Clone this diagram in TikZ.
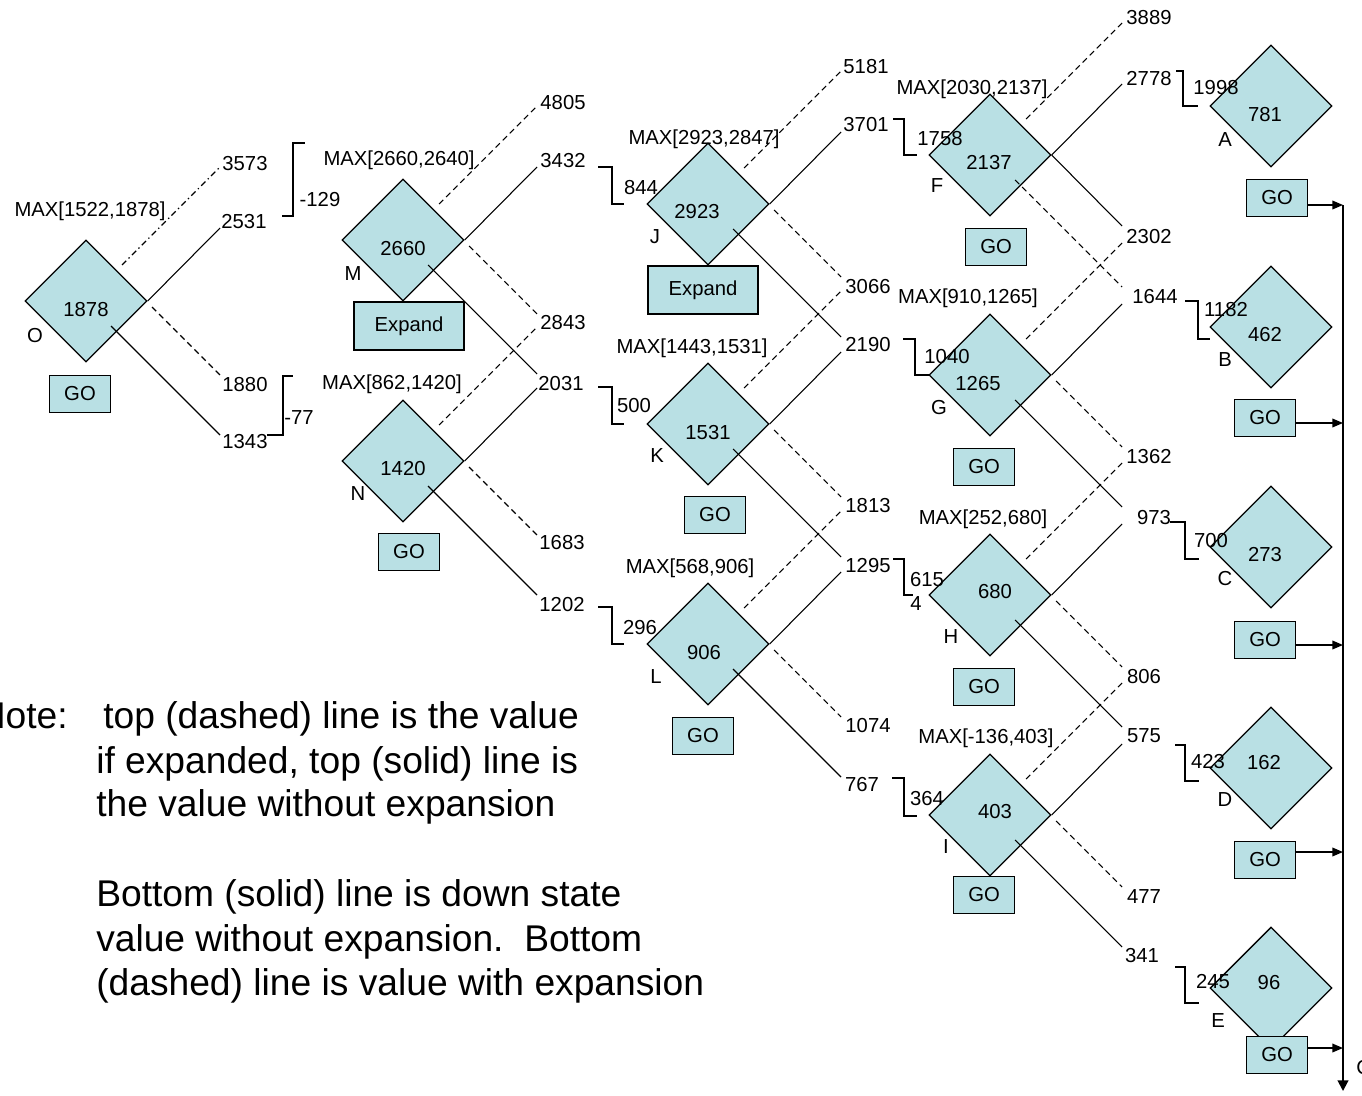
\documentclass[tikz,border=0pt]{standalone}
\usepackage{fontspec}
\setmainfont{Liberation Sans}
\usetikzlibrary{shapes.geometric,arrows.meta,calc}
\definecolor{boxfill}{RGB}{185,224,228}
\newcommand\fourlines[5]{%
  \draw[dashl] ($(#1)+(36,-36)$) -- (#2);
  \draw[solidl] (#1.east) -- (#3);
  \draw[dashl] ($(#1)+(66,6)$) -- (#4);
  \draw[solidl] ($(#1)+(25,25)$) -- (#5);}
\begin{document}
\begin{tikzpicture}[x=0.75pt,y=-0.75pt,
  dnode/.style={diamond,draw=black,fill=boxfill,line width=1pt,minimum width=91.5pt,minimum height=91.5pt,inner sep=0pt,aspect=1},
  gobox/.style={rectangle,draw=black,fill=boxfill,line width=1pt,minimum width=45.75pt,minimum height=27.75pt,inner sep=0pt,font=\fontsize{15.2}{18}\selectfont},
  expbox/.style={gobox,minimum width=82.5pt,minimum height=36pt},
  txt/.style={inner sep=0pt,font=\fontsize{15.2}{18}\selectfont},
  notetxt/.style={inner sep=0pt,font=\fontsize{27.9}{33}\selectfont,anchor=base west},
  solidl/.style={line width=0.8pt},
  dashl/.style={line width=0.8pt,dash pattern=on 4.5pt off 3pt},
  dashdotl/.style={line width=0.8pt,dash pattern=on 4.5pt off 2.5pt on 1pt off 2.5pt},
  brk/.style={line width=1pt},
  garrow/.style={line width=1.1pt,-{Triangle[length=8pt,width=6.5pt]}}
]
\useasboundingbox (0,0) rectangle (1362,1095);

% ---------- diamonds ----------
\node[dnode] (dO) at (86,301) {};
\node[dnode] (dM) at (403,240) {};
\node[dnode] (dN) at (403,461) {};
\node[dnode] (dJ) at (708,204) {};
\node[dnode] (dK) at (708,424) {};
\node[dnode] (dL) at (708,644) {};
\node[dnode] (dF) at (990,155) {};
\node[dnode] (dG) at (990,375) {};
\node[dnode] (dH) at (990,595) {};
\node[dnode] (dI) at (990,815) {};
\node[dnode] (dA) at (1271,106) {};
\node[dnode] (dB) at (1271,327) {};
\node[dnode] (dC) at (1271,547) {};
\node[dnode] (dD) at (1271,768) {};
\node[dnode] (dE) at (1271,988) {};

% ---------- values inside diamonds ----------
\node[txt] (vO) at (86,310) {1878};
\node[txt] (vM) at (403,249) {2660};
\node[txt] (vN) at (403,469) {1420};
\node[txt] (vJ) at (697,212) {2923};
\node[txt] (vK) at (708,433) {1531};
\node[txt] (vL) at (704,653) {906};
\node[txt] (vF) at (989,163) {2137};
\node[txt] (vG) at (978,384) {1265};
\node[txt] (vH) at (995,592) {680};
\node[txt] (vI) at (995,812) {403};
\node[txt] (vA) at (1265,115) {781};
\node[txt] (vB) at (1265,335) {462};
\node[txt] (vC) at (1265,555) {273};
\node[txt] (vD) at (1264,763) {162};
\node[txt] (vE) at (1269,983) {96};

% ---------- letters ----------
\node[txt] (lO) at (35,336) {O};
\node[txt] (lM) at (353,274) {M};
\node[txt] (lN) at (358,494) {N};
\node[txt] (lJ) at (655,237) {J};
\node[txt] (lK) at (657,456) {K};
\node[txt] (lL) at (656,677) {L};
\node[txt] (lF) at (937,186) {F};
\node[txt] (lG) at (939,408) {G};
\node[txt] (lH) at (951,637) {H};
\node[txt] (lI) at (946,847) {I};
\node[txt] (lA) at (1225,140) {A};
\node[txt] (lB) at (1225,360) {B};
\node[txt] (lC) at (1225,579) {C};
\node[txt] (lD) at (1225,800) {D};
\node[txt] (lE) at (1218,1021) {E};

% ---------- MAX labels ----------
\node[txt] (mO) at (90,211) {MAX[1522,1878]};
\node[txt] (mM) at (399,160) {MAX[2660,2640]};
\node[txt] (mN) at (392,384) {MAX[862,1420]};
\node[txt] (mJ) at (704,139) {MAX[2923,2847]};
\node[txt] (mK) at (692,348) {MAX[1443,1531]};
\node[txt] (mL) at (690,568) {MAX[568,906]};
\node[txt] (mF) at (972,89) {MAX[2030,2137]};
\node[txt] (mG) at (968,298) {MAX[910,1265]};
\node[txt] (mH) at (983,519) {MAX[252,680]};
\node[txt] (mI) at (986,738) {MAX[-136,403]};

% ---------- line end points ----------
\coordinate (eO1) at (220,167); \coordinate (eO2) at (220,228);
\coordinate (eO3) at (220,375); \coordinate (eO4) at (220,435);
\coordinate (eM1) at (537,106); \coordinate (eM2) at (537,167);
\coordinate (eM3) at (537,314); \coordinate (eM4) at (537,374);
\coordinate (eN1) at (537,327); \coordinate (eN2) at (537,388);
\coordinate (eN3) at (537,535); \coordinate (eN4) at (537,595);
\coordinate (eJ1) at (841,71);  \coordinate (eJ2) at (841,132);
\coordinate (eJ3) at (841,277); \coordinate (eJ4) at (841,337);
\coordinate (eK1) at (841,291); \coordinate (eK2) at (841,352);
\coordinate (eK3) at (841,497); \coordinate (eK4) at (841,557);
\coordinate (eL1) at (841,511); \coordinate (eL2) at (841,572);
\coordinate (eL3) at (841,717); \coordinate (eL4) at (841,777);
\coordinate (eF1) at (1122,23);  \coordinate (eF2) at (1122,84);
\coordinate (eF3) at (1122,226); \coordinate (eF4) at (1122,287);
\coordinate (eG1) at (1122,243); \coordinate (eG2) at (1122,304);
\coordinate (eG3) at (1122,447); \coordinate (eG4) at (1122,507);
\coordinate (eH1) at (1122,463); \coordinate (eH2) at (1122,524);
\coordinate (eH3) at (1122,667); \coordinate (eH4) at (1122,727);
\coordinate (eI1) at (1122,683); \coordinate (eI2) at (1122,744);
\coordinate (eI3) at (1122,887); \coordinate (eI4) at (1122,947);

% ---------- branch lines ----------
\draw[dashdotl] ($(dO)+(36,-36)$) -- (eO1);
\draw[solidl] (dO.east) -- (eO2);
\draw[dashl] ($(dO)+(66,6)$) -- (eO3);
\draw[solidl] ($(dO)+(25,25)$) -- (eO4);
\fourlines{dM}{eM1}{eM2}{eM3}{eM4}
\fourlines{dN}{eN1}{eN2}{eN3}{eN4}
\fourlines{dJ}{eJ1}{eJ2}{eJ3}{eJ4}
\fourlines{dK}{eK1}{eK2}{eK3}{eK4}
\fourlines{dL}{eL1}{eL2}{eL3}{eL4}
\draw[dashl] ($(dF)+(36,-36)$) -- (eF1);
\draw[solidl] (dF.east) -- (eF2);
\draw[solidl] (dF.east) -- (eF3);
\draw[dashl] ($(dF)+(25,25)$) -- (eF4);
\fourlines{dG}{eG1}{eG2}{eG3}{eG4}
\fourlines{dH}{eH1}{eH2}{eH3}{eH4}
\fourlines{dI}{eI1}{eI2}{eI3}{eI4}

% ---------- value labels ----------
\node[txt] (v3573) at (245,164) {3573};
\node[txt] (v2531) at (244,222) {2531};
\node[txt] (v1880) at (245,385) {1880};
\node[txt] (v1343) at (245,442) {1343};
\node[txt] (v4805) at (563,103) {4805};
\node[txt] (v3432) at (563,161) {3432};
\node[txt] (v2843) at (563,323) {2843};
\node[txt] (v2031) at (561,384) {2031};
\node[txt] (v1683) at (562,543) {1683};
\node[txt] (v1202) at (562,605) {1202};
\node[txt] (v5181) at (866,67) {5181};
\node[txt] (v3701) at (866,125) {3701};
\node[txt] (v3066) at (868,287) {3066};
\node[txt] (v2190) at (868,345) {2190};
\node[txt] (v1813) at (868,506) {1813};
\node[txt] (v1295) at (868,566) {1295};
\node[txt] (v1074) at (868,726) {1074};
\node[txt] (v767)  at (862,785) {767};
\node[txt] (v3889) at (1149,18) {3889};
\node[txt] (v2778) at (1149,79) {2778};
\node[txt] (v2302) at (1149,237) {2302};
\node[txt] (v1644) at (1155,297) {1644};
\node[txt] (v1362) at (1149,457) {1362};
\node[txt] (v973)  at (1154,518) {973};
\node[txt] (v806)  at (1144,677) {806};
\node[txt] (v575)  at (1144,736) {575};
\node[txt] (v477)  at (1144,897) {477};
\node[txt] (v341)  at (1142,956) {341};

% ---------- brackets ----------
\draw[brk] (282,216) -- (293,216) -- (293,143) -- (305,143);
\node[txt] (b129) at (320,200) {-129};
\draw[brk] (267,435) -- (283,435) -- (283,376) -- (293,376);
\node[txt] (b77) at (299,418) {-77};
\draw[brk] (598,167) -- (612,167) -- (612,204) -- (624,204);
\node[txt] (b844) at (641,188) {844};
\draw[brk] (598,387) -- (612,387) -- (612,424) -- (624,424);
\node[txt] (b500) at (634,406) {500};
\draw[brk] (598,607) -- (612,607) -- (612,644) -- (624,644);
\node[txt] (b296) at (640,628) {296};
\draw[brk] (893,119) -- (904,119) -- (904,155) -- (917,155);
\node[txt] (b1758) at (940,139) {1758};
\draw[brk] (903,339) -- (915,339) -- (915,375) -- (929,375);
\node[txt] (b1040) at (947,357) {1040};
\draw[brk] (893,559) -- (904,559) -- (904,595) -- (913,595);
\node[txt] (b615) at (927,580) {615};
\node[txt] (b4) at (916,604) {4};
\draw[brk] (892,778) -- (904,778) -- (904,816) -- (917,816);
\node[txt] (b364) at (927,799) {364};
\draw[brk] (1176,71) -- (1183,71) -- (1183,106) -- (1198,106);
\node[txt] (b1998) at (1216,88) {1998};
\draw[brk] (1185,301) -- (1198,301) -- (1198,339) -- (1210,339);
\node[txt] (b1182) at (1226,310) {1182};
\draw[brk] (1170,522) -- (1185,522) -- (1185,559) -- (1199,559);
\node[txt] (b700) at (1211,541) {700};
\draw[brk] (1175,745) -- (1185,745) -- (1185,781) -- (1199,781);
\node[txt] (b423) at (1208,762) {423};
\draw[brk] (1175,967) -- (1185,967) -- (1185,1003) -- (1199,1003);
\node[txt] (b245) at (1213,982) {245};

% ---------- GO / Expand boxes ----------
\node[gobox] (gO) at (80,394) {GO};
\node[expbox] (xM) at (409,326) {Expand};
\node[gobox] (gN) at (409,552) {GO};
\node[expbox] (xJ) at (703,290) {Expand};
\node[gobox] (gK) at (715,515) {GO};
\node[gobox] (gL) at (703,736) {GO};
\node[gobox] (gF) at (996,247) {GO};
\node[gobox] (gG) at (984,467) {GO};
\node[gobox] (gH) at (984,687) {GO};
\node[gobox] (gI) at (984,895) {GO};
\node[gobox] (gA) at (1277,198) {GO};
\node[gobox] (gB) at (1265,418) {GO};
\node[gobox] (gC) at (1265,640) {GO};
\node[gobox] (gD) at (1265,860) {GO};
\node[gobox] (gE) at (1277,1055) {GO};

% ---------- right spine ----------
\coordinate (sA) at (1343,205);
\coordinate (sB) at (1343,423);
\coordinate (sC) at (1343,645);
\coordinate (sD) at (1343,852);
\coordinate (sE) at (1343,1048);
\coordinate (sBot) at (1343,1091);
\draw[line width=1.5pt,-{Triangle[length=8pt,width=8pt]}] (sA) -- (sBot);
\draw[garrow] (gA.east |- sA) -- (sA);
\draw[garrow] (gB.east |- sB) -- (sB);
\draw[garrow] (gC.east |- sC) -- (sC);
\draw[garrow] (gD.east |- sD) -- (sD);
\draw[garrow] (gE.east |- sE) -- (sE);
\node[txt,anchor=west] (cut) at (1356,1068) {C};

% ---------- note ----------
\node[notetxt,anchor=base east] (noteA) at (68,728) {Note:};
\node[notetxt] (note1) at (103,728) {top (dashed) line is the value};
\node[notetxt] (note2) at (96,773) {if expanded, top (solid) line is};
\node[notetxt] (note3) at (96,816) {the value without expansion};
\node[notetxt] (note4) at (96,906) {Bottom (solid) line is down state};
\node[notetxt] (note5) at (96,951) {value without expansion.\ \ Bottom};
\node[notetxt] (note6) at (96,995) {(dashed) line is value with expansion};
\end{tikzpicture}
\end{document}
